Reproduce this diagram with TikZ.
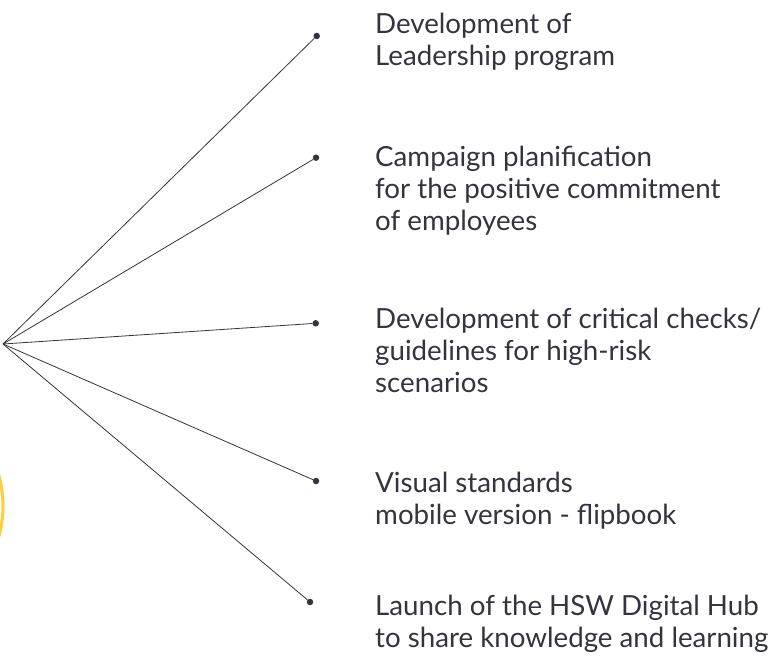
\documentclass[tikz,border=0pt]{standalone}
\usepackage{fontspec}
\setmainfont{Lato}
\definecolor{inkgray}{HTML}{34333F}
\definecolor{sunyellow}{HTML}{FFCD3A}
\tikzset{
  dot/.style = {circle, fill=inkgray, inner sep=0pt, minimum size=6.5pt},
  item/.style = {inkgray, align=left, anchor=base west, inner sep=0pt},
  spoke/.style = {inkgray, line width=0.8pt}
}
\begin{document}
\begin{tikzpicture}[x=1pt, y=-1pt, font={\fontsize{27.7pt}{32pt}\selectfont}]
\useasboundingbox (0,0) rectangle (783,655);
\clip (0,0) rectangle (783,655);
% ring, mostly outside the page
\draw[sunyellow, line width=3pt] (-111,506) circle [radius=114];

\coordinate (HUB) at (3,344);
\node[dot] (LEAD) at (316.7,36) {};
\node[dot] (CAMP) at (316,157.7) {};
\node[dot] (CHECK) at (315.7,323.3) {};
\node[dot] (VISUAL) at (316,481) {};
\node[dot] (DIGI) at (310,602) {};

% base anchor sits on the last line
\node[item] (TLEAD) at (375,66) {Development of\\Leadership program};
\node[item] (TCAMP) at (375,230) {Campaign planification\\for the positive commitment\\of employees};
\node[item] (TCHECK) at (375,392) {Development of critical checks/\\guidelines for high-risk\\scenarios};
\node[item] (TVISUAL) at (375,524) {Visual standards\\mobile version - flipbook};
\node[item] (TDIGI) at (375,647) {Launch of the HSW Digital Hub\\to share knowledge and learning};

\foreach \d in {LEAD, CAMP, CHECK, VISUAL, DIGI}
	\draw[spoke] (HUB) -- (\d);
\end{tikzpicture}
\end{document}
